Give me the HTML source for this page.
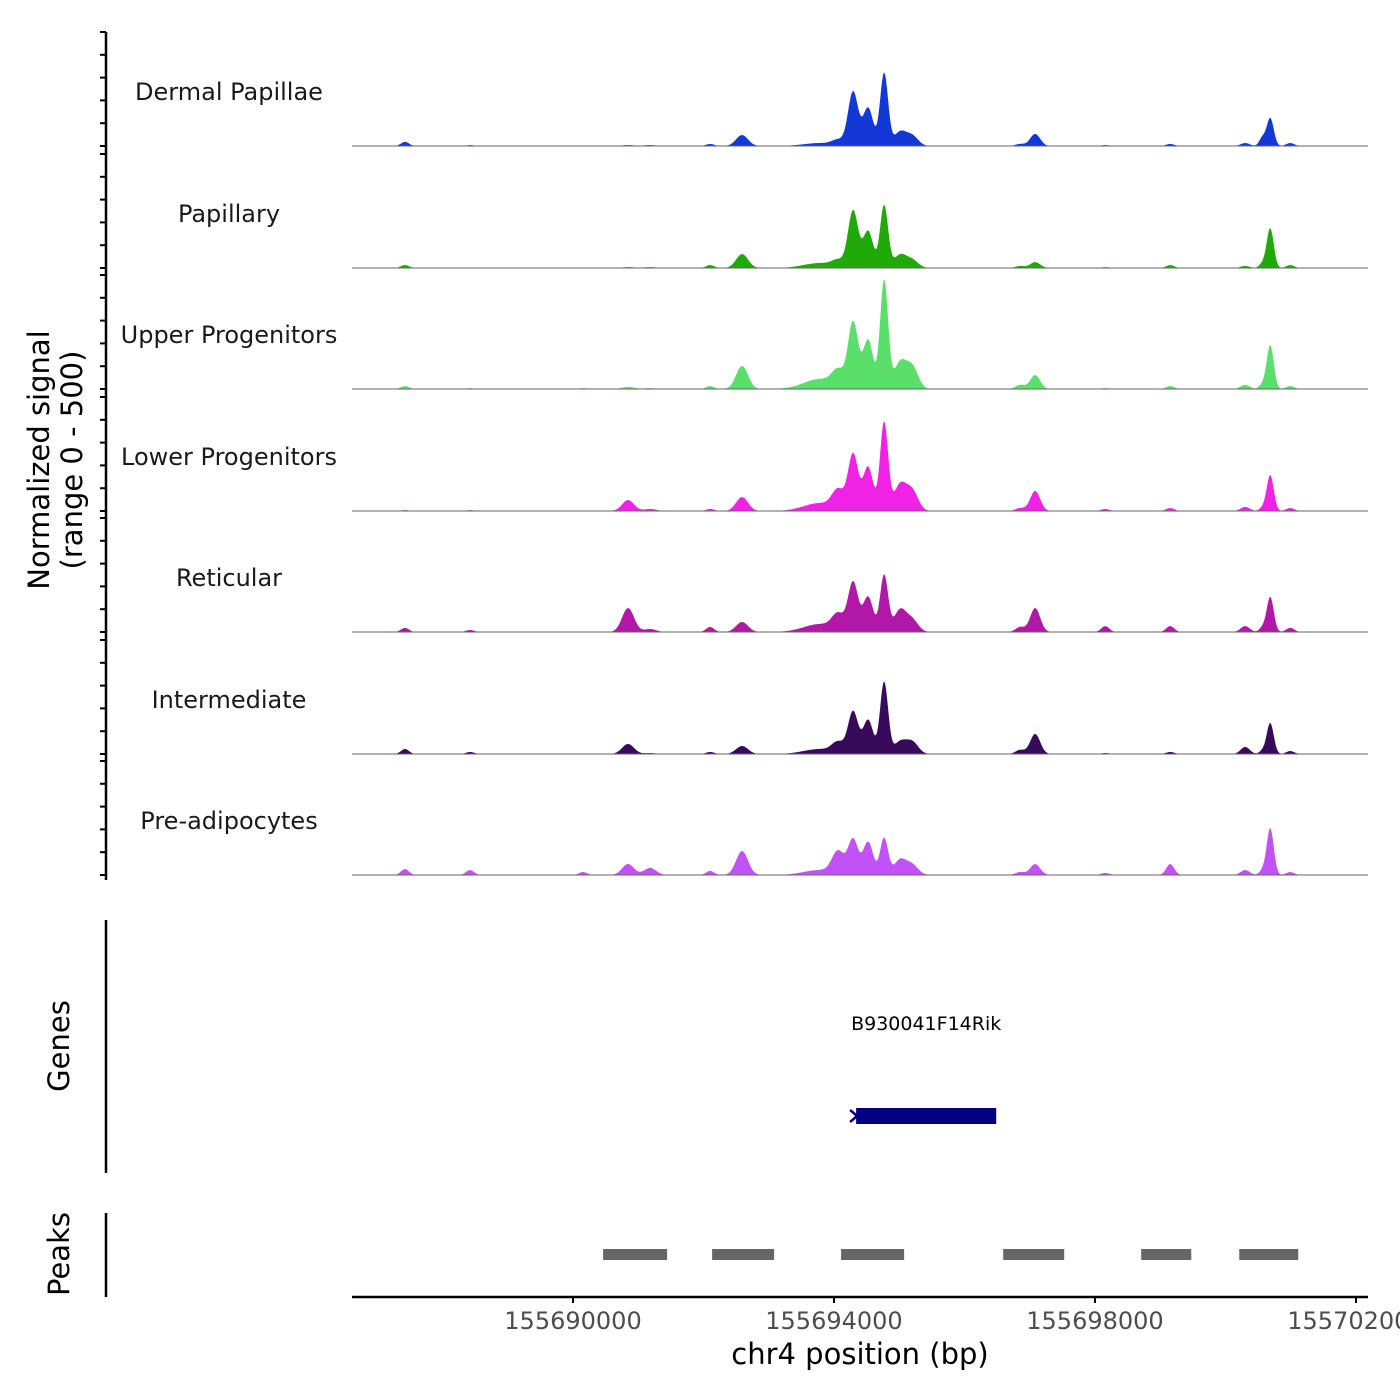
<!DOCTYPE html>
<html><head><meta charset="utf-8">
<style>
html,body{margin:0;padding:0;background:#fff;width:1400px;height:1400px;overflow:hidden}
svg{display:block;font-family:"DejaVu Sans","Liberation Sans",sans-serif}
</style></head>
<body>
<svg id="chart" width="1400" height="1400" viewBox="0 0 1400 1400">
<g id="tracks"></g>
<g id="yaxis"></g>
<text transform="translate(63,460) rotate(-90)" text-anchor="middle" font-size="29" fill="#000"><tspan x="0" dy="-14">Normalized signal</tspan><tspan x="0" dy="33">(range 0 - 500)</tspan></text>
<line x1="106" y1="920" x2="106" y2="1173" stroke="#000" stroke-width="2.5"/>
<text transform="translate(69,1046) rotate(-90)" text-anchor="middle" font-size="29">Genes</text>
<line x1="106" y1="1213" x2="106" y2="1297" stroke="#000" stroke-width="2.5"/>
<text transform="translate(69,1254) rotate(-90)" text-anchor="middle" font-size="29">Peaks</text>
<g id="genes"></g>
<g id="peaks"></g>
<g id="xaxis"></g>
<text x="860" y="1364" text-anchor="middle" font-size="29">chr4 position (bp)</text>
</svg>
<script>
const trackNames = ["Dermal Papillae","Papillary","Upper Progenitors","Lower Progenitors","Reticular","Intermediate","Pre-adipocytes"];
const trackColors = ["#1239d8","#1faa08","#5bdf6b","#f022e6","#b118a8","#370a5c","#c152f5"];
const peakCenters = [155687425,155688422,155690154,155690844,155691181,155692101,155692591,155693787,155694063,155694293,155694523,155694768,155695013,155695198,155696853,155697083,155698156,155699153,155700302,155700563,155700685,155700992];
const peakWidths = [61,61,61,92,92,61,92,250,92,77,77,61,92,92,69,77,61,61,69,46,54,61];
const sigDermalPapillae = [18,4,0,4,4,9,48,13,22,237,167,320,61,44,9,53,4,9,13,35,123,13];
const sigPapillary = [13,0,0,4,4,13,61,22,26,250,162,276,57,35,9,26,4,13,9,18,175,13];
const sigUpperProgenitors = [13,4,4,9,4,13,101,44,66,289,215,478,114,96,18,61,4,13,18,18,193,13];
const sigLowerProgenitors = [4,4,0,48,9,9,61,35,79,246,193,390,114,88,13,88,9,13,18,13,158,13];
const sigReticular = [18,9,0,105,13,22,44,35,66,215,154,250,96,53,22,105,26,26,26,18,154,18];
const sigIntermediate = [22,9,0,44,4,9,35,22,44,184,149,316,53,53,18,88,4,9,31,13,136,13];
const sigPreadipocytes = [26,22,13,48,31,18,105,22,96,154,145,162,66,44,13,48,9,48,22,18,206,13];
const geneName = "B930041F14Rik";
const geneStart = 155694339, geneEnd = 155696486;
const peakStarts = [155690461,155692132,155694109,155696593,155698708,155700211];
const peakEnds = [155691442,155693082,155695075,155697528,155699475,155701115];
const xTicks = [155690000,155694000,155698000,155702000];

const NS="http://www.w3.org/2000/svg";
const X0=352,X1=1368,BP0=155686613,BP1=155702184;
function xs(bp){return X0+(bp-BP0)/(BP1-BP0)*(X1-X0);}
const baselines=[146,268,389,511,632,754,875];
const panelH=114;
function ys(v,b){return b-Math.min(v,500)/500*panelH;}
const allSig=[sigDermalPapillae,sigPapillary,sigUpperProgenitors,sigLowerProgenitors,sigReticular,sigIntermediate,sigPreadipocytes];
function mk(tag,attrs,parent){const e=document.createElementNS(NS,tag);for(const k in attrs)e.setAttribute(k,attrs[k]);parent.appendChild(e);return e;}
const tg=document.getElementById('tracks');
allSig.forEach((sig,t)=>{
  const b=baselines[t];
  const g=mk('g',{},tg);
  
  
  let d='M'+X0+','+b;
  for(let x=X0;x<=X1;x+=1){
    const bp=BP0+(x-X0)/(X1-X0)*(BP1-BP0);
    let v=0;
    for(let i=0;i<peakCenters.length;i++){const z=(bp-peakCenters[i])/peakWidths[i];if(Math.abs(z)<5)v+=sig[i]*Math.exp(-0.5*z*z);}
    d+='L'+x+','+ys(v,b).toFixed(2);
  }
  d+='L'+X1+','+b+'Z';
  const p=mk('path',{d:d,fill:trackColors[t]},g);
  
  
  const l=mk('line',{x1:X0,x2:X1,y1:b,y2:b,stroke:'#666','stroke-width':1},g);
  
  
  const tx=mk('text',{x:229,y:b-46,'text-anchor':'middle','font-size':24,fill:'#1a1a1a'},g);
  tx.textContent=trackNames[t];
  
  
});
const ya=document.getElementById('yaxis');
mk('line',{x1:106,x2:106,y1:32,y2:880,stroke:'#000','stroke-width':2.5},ya);
baselines.forEach(b=>{for(let k=0;k<=5;k++){const y=b-k*panelH/5;const tk=mk('line',{x1:100,x2:106,y1:y,y2:y,stroke:'#000','stroke-width':2},ya);

}});
const gg=document.getElementById('genes');
const gl=mk('text',{x:(xs(geneStart)+xs(geneEnd))/2,y:1030,'text-anchor':'middle','font-size':19},gg);
gl.textContent=geneName;


const gr=mk('rect',{x:xs(geneStart),y:1108,width:xs(geneEnd)-xs(geneStart),height:16,fill:'#000080'},gg);


const ga=mk('path',{d:`M${xs(geneStart)-6},1110 L${xs(geneStart)+1},1116 L${xs(geneStart)-6},1122`,fill:'none',stroke:'#000080','stroke-width':2.5},gg);


const pg=document.getElementById('peaks');
peakStarts.forEach((s,i)=>{const r=mk('rect',{x:xs(s),y:1249,width:xs(peakEnds[i])-xs(s),height:11,fill:'#666'},pg);

});
const xa=document.getElementById('xaxis');
mk('line',{x1:X0,x2:X1,y1:1297,y2:1297,stroke:'#000','stroke-width':2.5},xa);
xTicks.forEach(v=>{const x=xs(v);const tk=mk('line',{x1:x,x2:x,y1:1297,y2:1303,stroke:'#000','stroke-width':2},xa);


const t=mk('text',{x:x,y:1329,'text-anchor':'middle','font-size':24,fill:'#4d4d4d'},xa);t.textContent=v;

});
</script>
</body></html>
